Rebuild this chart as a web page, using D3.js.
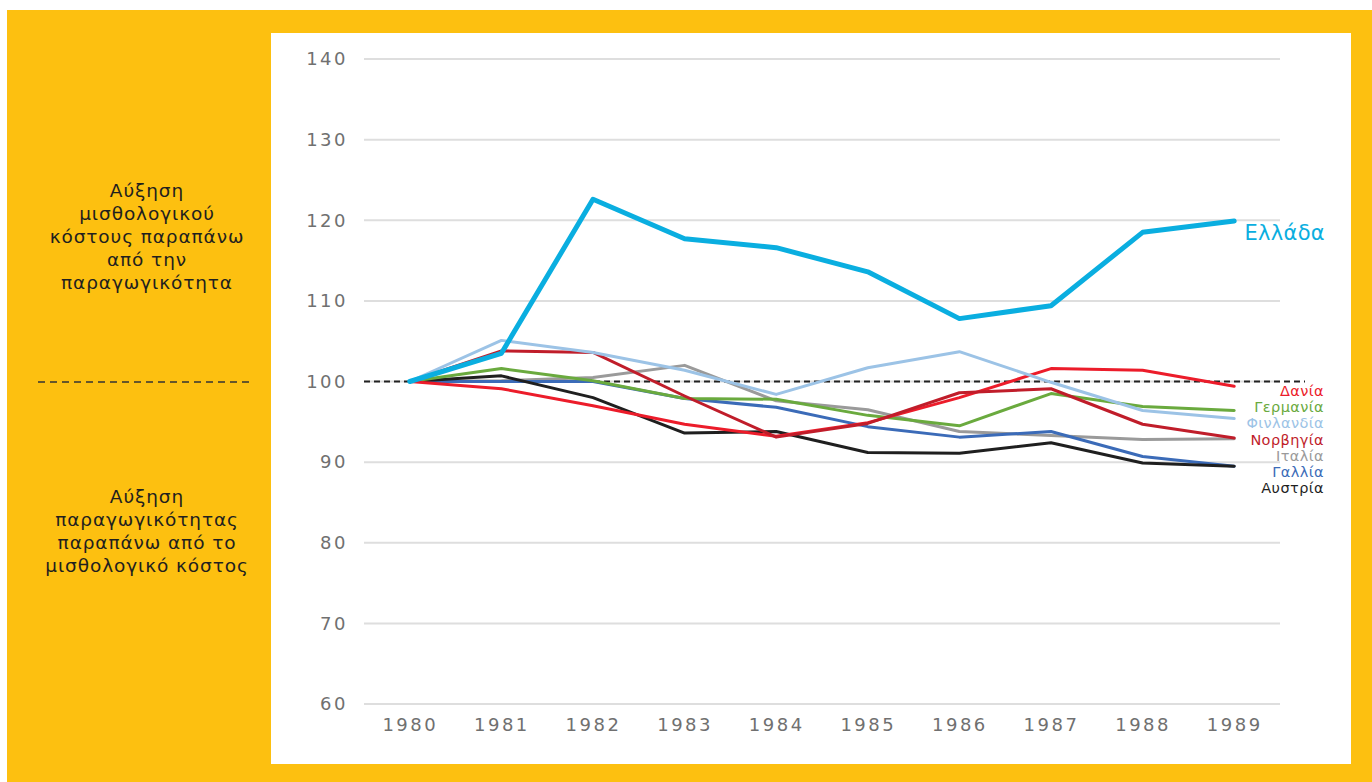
<!DOCTYPE html>
<html>
<head>
<meta charset="utf-8">
<script src="https://cdn.jsdelivr.net/npm/d3@7"></script>
<style>
  html, body { margin: 0; padding: 0; background: #fff; }
  svg { display: block; font-family: "DejaVu Sans", "Noto Sans", sans-serif; }
</style>
</head>
<body>
<div id="chart"></div>
<script>
// Data (index, 1980 = 100)
const years = [1980, 1981, 1982, 1983, 1984, 1985, 1986, 1987, 1988, 1989];
const yTicks = [60, 70, 80, 90, 100, 110, 120, 130, 140];

const greece  = [100, 103.5, 122.6, 117.7, 116.6, 113.6, 107.8, 109.4, 118.5, 119.9];
const finland = [100, 105.1, 103.6, 101.4, 98.4, 101.7, 103.7, 99.9, 96.4, 95.4];
const norway  = [100, 103.8, 103.6, 98.2, 93.1, 94.8, 98.6, 99.1, 94.7, 93.0];
const denmark = [100, 99.1, 97.0, 94.7, 93.2, 94.9, 98.0, 101.6, 101.4, 99.4];
const germany = [100, 101.6, 100.1, 97.9, 97.8, 95.8, 94.5, 98.5, 96.9, 96.4];
const france  = [100, 100.0, 100.0, 97.9, 96.8, 94.4, 93.1, 93.8, 90.7, 89.5];
const italy   = [100, 100.1, 100.5, 102.0, 97.6, 96.5, 93.8, 93.3, 92.8, 92.9];
const austria = [100, 100.7, 98.0, 93.6, 93.8, 91.2, 91.1, 92.4, 89.9, 89.5];

const seriesNames = ['Ιταλία', 'Γαλλία', 'Αυστρία', 'Γερμανία', 'Δανία', 'Νορβηγία', 'Φινλανδία', 'Ελλάδα'];
const seriesValues = [italy, france, austria, germany, denmark, norway, finland, greece];
const seriesColors = ['#9a9a9a', '#3b6bb8', '#1f1f1f', '#6aaa3e', '#ec1c2a', '#c01d2a', '#9cc3e6', '#0aaee0'];

// right-side label order (top to bottom)
const labelOrder = ['Δανία', 'Γερμανία', 'Φινλανδία', 'Νορβηγία', 'Ιταλία', 'Γαλλία', 'Αυστρία'];

const upperNote = ['Αύξηση', 'μισθολογικού', 'κόστους παραπάνω', 'από την', 'παραγωγικότητα'];
const lowerNote = ['Αύξηση', 'παραγωγικότητας', 'παραπάνω από το', 'μισθολογικό κόστος'];

const W = 1372, H = 782;
const svg = d3.select('#chart').append('svg').attr('width', W).attr('height', H);

// Yellow frame and white plot panel
svg.append('rect').attr('x', 7).attr('y', 10).attr('width', W - 7).attr('height', H - 10).attr('fill', '#fdc010');
svg.append('rect').attr('x', 271).attr('y', 33).attr('width', 1080).attr('height', 731).attr('fill', '#fff');

const x = d3.scalePoint().domain(years).range([364, 1280]).padding(0.5);
const y = d3.scaleLinear().domain([60, 140]).range([704, 59]);

// Gridlines
svg.append('g')
  .selectAll('line')
  .data(yTicks)
  .enter()
  .append('line')
  .attr('x1', 364).attr('x2', 1280)
  .attr('y1', d => y(d)).attr('y2', d => y(d))
  .attr('stroke', '#dedede')
  .attr('stroke-width', 2);

// Y axis labels
const yAxis = svg.append('g')
  .attr('transform', 'translate(348,0)')
  .call(d3.axisLeft(y).tickValues(yTicks).tickSize(0).tickPadding(0));
yAxis.select('.domain').remove();
yAxis.selectAll('text')
  .attr('fill', '#707070')
  .attr('font-size', 18)
  .attr('letter-spacing', 2.5)
  .attr('font-family', '"DejaVu Sans", sans-serif');

// X axis labels
const xAxis = svg.append('g')
  .attr('transform', 'translate(0,718)')
  .call(d3.axisBottom(x).tickSize(0).tickPadding(0));
xAxis.select('.domain').remove();
xAxis.selectAll('text')
  .attr('fill', '#707070')
  .attr('font-size', 18)
  .attr('letter-spacing', 2.5)
  .attr('font-family', '"DejaVu Sans", sans-serif');

// Reference line at 100
svg.append('line')
  .attr('x1', 364).attr('x2', 1305)
  .attr('y1', y(100)).attr('y2', y(100))
  .attr('stroke', '#222')
  .attr('stroke-width', 2)
  .attr('stroke-dasharray', '6,4');

// Series lines
const line = d3.line().x((d, i) => x(years[i])).y(d => y(d));
seriesValues.forEach((vals, i) => {
  svg.append('path')
    .datum(vals)
    .attr('d', line)
    .attr('fill', 'none')
    .attr('stroke', seriesColors[i])
    .attr('stroke-width', seriesNames[i] === 'Ελλάδα' ? 5 : 3)
    .attr('stroke-linejoin', 'round')
    .attr('stroke-linecap', 'round');
});

// Greece label
svg.append('text')
  .attr('x', 1325).attr('y', y(greece[9]) + 19)
  .attr('text-anchor', 'end')
  .attr('fill', '#0aaee0')
  .attr('font-size', 21)
  .attr('letter-spacing', 0.3)
  .text('Ελλάδα');

// Other labels stacked at right
const colorOf = name => seriesColors[seriesNames.indexOf(name)];
svg.append('g')
  .selectAll('text')
  .data(labelOrder)
  .enter()
  .append('text')
  .attr('x', 1324)
  .attr('y', (d, i) => 396 + i * 16.2)
  .attr('text-anchor', 'end')
  .attr('fill', d => colorOf(d))
  .attr('font-size', 14.5)
  .attr('letter-spacing', 0.4)
  .text(d => d);

// Left annotations
const note = svg.append('g')
  .attr('fill', '#1f1f1f')
  .attr('font-size', 18.5)
  .attr('letter-spacing', 0.9)
  .attr('text-anchor', 'middle');
note.selectAll('.up')
  .data(upperNote)
  .enter()
  .append('text')
  .attr('x', 147)
  .attr('y', (d, i) => 197 + i * 23)
  .text(d => d);
note.selectAll('.down')
  .data(lowerNote)
  .enter()
  .append('text')
  .attr('x', 147)
  .attr('y', (d, i) => 503 + i * 23)
  .text(d => d);

svg.append('line')
  .attr('x1', 38).attr('x2', 250)
  .attr('y1', 382).attr('y2', 382)
  .attr('stroke', '#333')
  .attr('stroke-width', 1.5)
  .attr('stroke-dasharray', '7,5');
</script>
</body>
</html>
